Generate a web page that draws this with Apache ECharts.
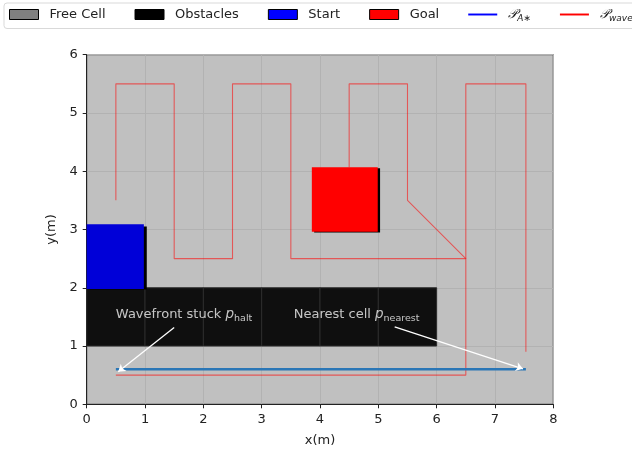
<!DOCTYPE html>
<html>
<head>
<meta charset="utf-8">
<script src="https://cdn.jsdelivr.net/npm/echarts@6/dist/echarts.min.js"></script>
<style>
  html, body { margin: 0; padding: 0; background: #ffffff; }
  #chart { width: 632px; height: 450px; }
</style>
</head>
<body>
<div id="chart"></div>
<script>
// Map extent (metres) and tick spacing
const xRange = [0, 8];
const yRange = [0, 6];
const tickStep = 1;

// Legend entries
const legendNames = ['Free Cell', 'Obstacles', 'Start', 'Goal', 'PA', 'PW'];

// Cells as [x0, y0, x1, y1]
const obstacleCells = [
  [0, 1, 1, 2], [1, 1, 2, 2], [2, 1, 3, 2],
  [3, 1, 4, 2], [4, 1, 5, 2], [5, 1, 6, 2]
];
const startShadow = [0.05, 1.97, 1.03, 3.05];
const startCell = [0, 1.98, 0.98, 3.09];
const goalShadow = [3.9, 2.95, 5.03, 4.05];
const goalCell = [3.86, 2.96, 4.99, 4.07];

// A* path
const pathAStar = [[0.5, 0.6], [7.53, 0.6]];

// Wavefront path pieces
const pathWaveSnake = [
  [0.5, 3.5], [0.5, 5.5], [1.5, 5.5], [1.5, 2.5], [2.5, 2.5], [2.5, 5.5],
  [3.5, 5.5], [3.5, 2.5], [6.5, 2.5], [6.5, 5.5], [7.53, 5.5], [7.53, 0.9]
];
const pathWaveBranch = [
  [4.5, 4.07], [4.5, 5.5], [5.5, 5.5], [5.5, 3.5], [6.5, 2.5], [6.5, 0.5], [0.5, 0.5]
];

// Annotations: text anchor and arrow tail -> head
const noteHalt = { at: [0.5, 1.5], from: [1.5, 1.32], to: [0.54, 0.56] };
const noteNearest = { at: [3.55, 1.5], from: [5.28, 1.33], to: [7.48, 0.61] };

const FONT = 'DejaVu Sans';

function rectSeries(name, cells, fill, stroke, z) {
  return {
    name: name,
    type: 'custom',
    z: z,
    silent: true,
    data: cells,
    encode: { x: [0, 2], y: [1, 3] },
    renderItem: function (params, api) {
      const p0 = api.coord([api.value(0), api.value(1)]);
      const p1 = api.coord([api.value(2), api.value(3)]);
      return {
        type: 'rect',
        shape: { x: p0[0], y: p1[1], width: p1[0] - p0[0], height: p0[1] - p1[1] },
        style: stroke ? { fill: fill, stroke: stroke, lineWidth: 1 } : { fill: fill }
      };
    }
  };
}

function lineSeries(name, pts, color, width, z) {
  return {
    name: name,
    type: 'line',
    z: z,
    data: pts,
    showSymbol: false,
    symbol: 'none',
    silent: true,
    animation: false,
    lineStyle: { color: color, width: width },
    itemStyle: { color: color }
  };
}

const richLabel = {
  t: { color: '#f2f2f2', fontFamily: FONT, fontSize: 13, lineHeight: 18, verticalAlign: 'middle' },
  p: { color: '#f2f2f2', fontFamily: FONT, fontSize: 13.5, fontStyle: 'italic', lineHeight: 18, verticalAlign: 'middle' },
  s: { color: '#f2f2f2', fontFamily: FONT, fontSize: 9.5, lineHeight: 18, verticalAlign: 'bottom' }
};

function noteSeries(note, formatter) {
  return {
    type: 'scatter',
    z: 6,
    silent: true,
    symbolSize: 0,
    data: [note.at],
    label: {
      show: true,
      position: 'right',
      distance: 0,
      offset: [0, -2],
      formatter: formatter,
      rich: richLabel
    }
  };
}

const chart = echarts.init(document.getElementById('chart'), null, { renderer: 'canvas' });

const lineIcon = 'path://M0,0 L30,0 L30,2 L0,2 Z';

chart.setOption({
  animation: false,
  backgroundColor: '#ffffff',
  legend: {
    left: 4,
    top: 3,
    width: 700,
    padding: [5, 5, 5, 5],
    itemWidth: 29,
    itemHeight: 10,
    itemGap: 29,
    backgroundColor: 'rgba(255,255,255,0.8)',
    borderColor: '#d9d9d9',
    borderWidth: 1,
    borderRadius: 3,
    selectedMode: false,
    textStyle: {
      fontFamily: FONT,
      fontSize: 13,
      color: '#222222',
      padding: [0, 0, 0, 6],
      rich: {
        cp: { fontFamily: FONT, fontSize: 13, fontStyle: 'italic', color: '#222222' },
        sb: { fontFamily: FONT, fontSize: 9, fontStyle: 'italic', color: '#222222', verticalAlign: 'bottom', lineHeight: 18 }
      }
    },
    formatter: function (name) {
      if (name === 'PA') return '{cp|𝒫}{sb|A∗}';
      if (name === 'PW') return '{cp|𝒫}{sb|wave}';
      return name;
    },
    data: [
      { name: 'Free Cell', icon: 'rect', itemStyle: { color: '#808080', borderColor: '#000000', borderWidth: 1 } },
      { name: 'Obstacles', icon: 'rect', itemStyle: { color: '#000000', borderColor: '#000000', borderWidth: 1 } },
      { name: 'Start', icon: 'rect', itemStyle: { color: '#0000ff', borderColor: '#000000', borderWidth: 1 } },
      { name: 'Goal', icon: 'rect', itemStyle: { color: '#ff0000', borderColor: '#000000', borderWidth: 1 } },
      { name: 'PA', icon: lineIcon, itemStyle: { color: '#0000ff', borderWidth: 0 } },
      { name: 'PW', icon: lineIcon, itemStyle: { color: '#ff0000', borderWidth: 0 } }
    ]
  },
  grid: {
    left: 86.7,
    right: 78.7,
    top: 54.7,
    bottom: 45.7,
    outerBoundsMode: 'none',
    containLabel: false,
    show: true,
    backgroundColor: '#c0c0c0',
    borderColor: '#262626',
    borderWidth: 1
  },
  xAxis: {
    type: 'value',
    min: xRange[0],
    max: xRange[1],
    interval: tickStep,
    name: 'x(m)',
    nameLocation: 'middle',
    nameGap: 30,
    nameTextStyle: { fontFamily: FONT, fontSize: 13, color: '#222222' },
    axisLine: { show: true, lineStyle: { color: '#222222', width: 1 } },
    axisTick: { show: true, length: 4, lineStyle: { color: '#222222' } },
    axisLabel: { fontFamily: FONT, fontSize: 13, color: '#222222', margin: 9 },
    splitLine: { show: true, lineStyle: { color: '#b2b2b2', width: 1 } }
  },
  yAxis: {
    type: 'value',
    min: yRange[0],
    max: yRange[1],
    interval: tickStep,
    name: 'y(m)',
    nameLocation: 'middle',
    nameGap: 26,
    nameRotate: 90,
    nameTextStyle: { fontFamily: FONT, fontSize: 13, color: '#222222' },
    axisLine: { show: true, lineStyle: { color: '#222222', width: 1 } },
    axisTick: { show: true, length: 4, lineStyle: { color: '#222222' } },
    axisLabel: { fontFamily: FONT, fontSize: 13, color: '#222222', margin: 9 },
    splitLine: { show: true, lineStyle: { color: '#b2b2b2', width: 1 } }
  },
  series: [
    rectSeries('Free Cell', [], '#808080', null, 1),
    rectSeries('Obstacles', obstacleCells, '#0f0f0f', '#2c2c2c', 2),
    rectSeries('StartShadow', [startShadow], '#000000', null, 2),
    rectSeries('Start', [startCell], '#0000d8', null, 3),
    rectSeries('GoalShadow', [goalShadow], '#000000', null, 2),
    rectSeries('Goal', [goalCell], '#ff0000', null, 3),
    lineSeries('PW', pathWaveSnake, 'rgba(255,0,0,0.55)', 1.1, 4),
    lineSeries('PW', pathWaveBranch, 'rgba(255,0,0,0.55)', 1.1, 4),
    lineSeries('PA', pathAStar, '#2a76b6', 2.5, 5),
    {
      type: 'lines',
      coordinateSystem: 'cartesian2d',
      z: 6,
      silent: true,
      symbol: ['none', 'arrow'],
      symbolSize: 7,
      lineStyle: { color: '#ffffff', width: 1.3, opacity: 1 },
      data: [
        { coords: [noteHalt.from, noteHalt.to] },
        { coords: [noteNearest.from, noteNearest.to] }
      ]
    },
    noteSeries(noteHalt, '{t|Wavefront stuck }{p|p}{s|halt}'),
    noteSeries(noteNearest, '{t|Nearest cell }{p|p}{s|nearest}')
  ]
});
</script>
</body>
</html>
